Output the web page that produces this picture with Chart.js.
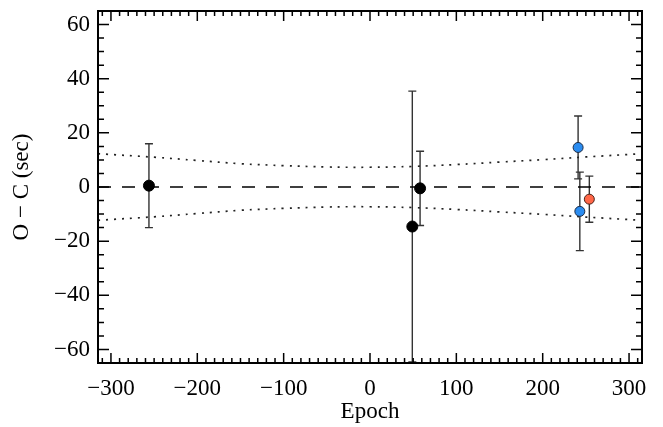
<!DOCTYPE html>
<html>
<head>
<meta charset="utf-8">
<style>
  html, body { margin: 0; padding: 0; background: #fff; }
  #wrap { width: 663px; height: 427px; }
</style>
<script src="https://cdn.jsdelivr.net/npm/chart.js@4.4.1/dist/chart.umd.min.js"></script>
</head>
<body>
<div id="wrap"><canvas id="oc-chart" width="663" height="427"></canvas></div>
<script>
    "use strict";

    // timing residuals
    var epochBlack = [-256, 49, 58];
    var ocBlack = [0.5, -14.6, -0.5];
    var errBlack = [15.5, 50, 13.7];

    var epochBlue = [241, 243];
    var ocBlue = [14.6, -9.0];
    var errBlue = [11.6, 14.5];

    var epochRed = [254];
    var ocRed = [-4.5];
    var errRed = [8.5];

    // confidence band (half width, sec)
    var bandEpoch = [-315, -250, -200, -150, -100, -50, 0, 50, 100, 150, 200, 250, 315];
    var bandHalf = [12.3, 11.0, 9.8, 8.6, 7.9, 7.4, 7.3, 7.6, 8.3, 9.2, 10.1, 11.1, 12.3];

    var xTicks = [-300, -200, -100, 0, 100, 200, 300];
    var yTicks = [-60, -40, -20, 0, 20, 40, 60];

    var serif = "'Liberation Serif', 'DejaVu Serif', serif";

    function pts(xs, ys) {
        return xs.map(function (x, i) { return { x: x, y: ys[i] }; });
    }
    function fmt(v) {
        return v < 0 ? "\u2212" + Math.abs(v) : String(v);
    }

    var errorSets = [
        { x: epochBlack, y: ocBlack, e: errBlack },
        { x: epochBlue, y: ocBlue, e: errBlue },
        { x: epochRed, y: ocRed, e: errRed }
    ];

    // error bars under the points
    var errorBars = {
        id: "errorBars",
        beforeDatasetsDraw: function (chart) {
            var ctx = chart.ctx, xs = chart.scales.x, ys = chart.scales.y, a = chart.chartArea;
            ctx.save();
            ctx.beginPath();
            ctx.rect(a.left, a.top, a.right - a.left, a.bottom - a.top);
            ctx.clip();
            ctx.strokeStyle = "#333";
            ctx.lineWidth = 1.4;
            errorSets.forEach(function (s) {
                s.x.forEach(function (x, i) {
                    var px = xs.getPixelForValue(x);
                    var hi = ys.getPixelForValue(s.y[i] + s.e[i]);
                    var lo = ys.getPixelForValue(s.y[i] - s.e[i]);
                    ctx.beginPath();
                    ctx.moveTo(px, hi); ctx.lineTo(px, lo);
                    ctx.moveTo(px - 4, hi); ctx.lineTo(px + 4, hi);
                    ctx.moveTo(px - 4, lo); ctx.lineTo(px + 4, lo);
                    ctx.stroke();
                });
            });
            ctx.restore();
        }
    };

    // box frame with inward ticks on all four sides
    var frame = {
        id: "frame",
        afterDraw: function (chart) {
            var ctx = chart.ctx, xs = chart.scales.x, ys = chart.scales.y, a = chart.chartArea;
            ctx.save();
            ctx.strokeStyle = "#000";
            ctx.lineWidth = 1.5;
            ctx.beginPath();
            var v, p, len;
            for (v = -310; v <= 310; v += 10) {
                p = xs.getPixelForValue(v);
                len = v % 100 === 0 ? 10 : 5;
                ctx.moveTo(p, a.bottom); ctx.lineTo(p, a.bottom - len);
                ctx.moveTo(p, a.top); ctx.lineTo(p, a.top + len);
            }
            for (v = -60; v <= 60; v += 5) {
                p = ys.getPixelForValue(v);
                len = v % 20 === 0 ? 11 : 6;
                ctx.moveTo(a.left, p); ctx.lineTo(a.left + len, p);
                ctx.moveTo(a.right, p); ctx.lineTo(a.right - len, p);
            }
            ctx.stroke();
            ctx.lineWidth = 2;
            ctx.strokeRect(a.left, a.top, a.right - a.left, a.bottom - a.top);
            ctx.restore();
        }
    };

    var ctx1 = document.getElementById("oc-chart").getContext("2d");
    var myChart1 = new Chart(ctx1, {
        type: "scatter",
        data: {
            datasets: [{
                    label: "black",
                    data: pts(epochBlack, ocBlack),
                    backgroundColor: "#000",
                    borderColor: "#000",
                    borderWidth: 1,
                    pointRadius: 5.5
                },
                {
                    label: "blue",
                    data: pts(epochBlue, ocBlue),
                    backgroundColor: "#2b8cf0",
                    borderColor: "#1b2a44",
                    borderWidth: 1,
                    pointRadius: 5
                },
                {
                    label: "red",
                    data: pts(epochRed, ocRed),
                    backgroundColor: "#ff6647",
                    borderColor: "#4a2218",
                    borderWidth: 1,
                    pointRadius: 5
                },
                {
                    label: "zero",
                    data: pts([-315, 315], [0, 0]),
                    showLine: true,
                    borderColor: "#000",
                    borderWidth: 1.6,
                    borderDash: [13, 11],
                    pointRadius: 0
                },
                {
                    label: "upper",
                    data: pts(bandEpoch, bandHalf),
                    showLine: true,
                    tension: 0.4,
                    borderColor: "#222",
                    borderWidth: 1.7,
                    borderDash: [2, 6],
                    pointRadius: 0
                },
                {
                    label: "lower",
                    data: pts(bandEpoch, bandHalf.map(function (h) { return -h; })),
                    showLine: true,
                    tension: 0.4,
                    borderColor: "#222",
                    borderWidth: 1.7,
                    borderDash: [2, 6],
                    pointRadius: 0
                }
            ]
        },
        options: {
            responsive: false,
            animation: false,
            layout: { padding: { left: 0, right: 21, top: 11, bottom: 0 } },
            plugins: { legend: { display: false }, tooltip: { enabled: false } },
            scales: {
                x: {
                    type: "linear",
                    min: -315,
                    max: 315,
                    afterBuildTicks: function (s) { s.ticks = xTicks.map(function (v) { return { value: v }; }); },
                    afterFit: function (s) { s.height = 64; s.paddingLeft = 0; s.paddingRight = 0; },
                    grid: { display: false, drawTicks: false },
                    border: { display: false },
                    ticks: {
                        color: "#000",
                        padding: 12,
                        maxRotation: 0,
                        autoSkip: false,
                        font: { family: serif, size: 23 },
                        callback: fmt
                    },
                    title: {
                        display: true,
                        text: "Epoch",
                        color: "#000",
                        padding: { top: 0, bottom: 1 },
                        font: { family: serif, size: 23 }
                    }
                },
                y: {
                    type: "linear",
                    min: -65,
                    max: 65,
                    afterBuildTicks: function (s) { s.ticks = yTicks.map(function (v) { return { value: v }; }); },
                    afterFit: function (s) { s.width = 98; s.paddingTop = 0; s.paddingBottom = 0; },
                    grid: { display: false, drawTicks: false },
                    border: { display: false },
                    ticks: {
                        color: "#000",
                        padding: 8,
                        autoSkip: false,
                        font: { family: serif, size: 23 },
                        callback: fmt
                    },
                    title: {
                        display: true,
                        text: "O \u2212 C (sec)",
                        color: "#000",
                        padding: { top: 8, bottom: 0 },
                        font: { family: serif, size: 23 }
                    }
                }
            }
        },
        plugins: [errorBars, frame]
    });
</script>
</body>
</html>
